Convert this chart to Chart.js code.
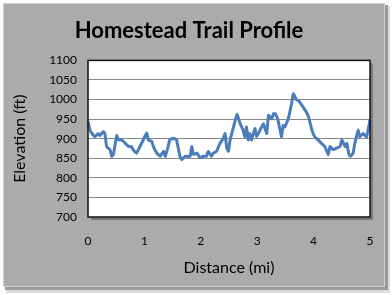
<!DOCTYPE html>
<html>
<head>
<meta charset="utf-8">
<script src="https://cdn.jsdelivr.net/npm/chart.js@4/dist/chart.umd.min.js"></script>
<style>
  html, body { margin: 0; padding: 0; background: #ffffff; }
  #wrap { width: 392px; height: 295px; position: relative; }
</style>
</head>
<body>
<div id="wrap"><canvas id="grafico-perfil" width="392" height="295"></canvas></div>
<script>
// === Datos ===
const tituloGrafico = "Homestead Trail Profile";
const tituloX = "Distance (mi)";
const tituloY = "Elevation (ft)";

const distancias = [
  0.00, 0.04, 0.12, 0.18, 0.21, 0.27, 0.30, 0.33, 0.39, 0.42, 0.45, 0.51, 0.54, 0.60, 0.66,
  0.72, 0.77, 0.80, 0.86, 0.92, 0.98, 1.04, 1.07, 1.13, 1.16, 1.22, 1.28, 1.34, 1.37, 1.42,
  1.45, 1.51, 1.57, 1.63, 1.66, 1.72, 1.81, 1.84, 1.87, 1.93, 1.99, 2.04, 2.10, 2.13, 2.19,
  2.22, 2.28, 2.34, 2.40, 2.43, 2.46, 2.49, 2.52, 2.58, 2.64, 2.70, 2.75, 2.78, 2.81, 2.84,
  2.87, 2.90, 2.96, 2.99, 3.05, 3.11, 3.17, 3.20, 3.26, 3.29, 3.32, 3.37, 3.43, 3.46, 3.49,
  3.55, 3.61, 3.64, 3.67, 3.70, 3.73, 3.79, 3.85, 3.91, 3.97, 4.02, 4.08, 4.14, 4.20, 4.26,
  4.29, 4.35, 4.41, 4.47, 4.50, 4.56, 4.59, 4.62, 4.65, 4.70, 4.73, 4.76, 4.79, 4.82, 4.88,
  4.94, 5.00
];
const elevaciones = [
  945, 920, 905, 913, 908, 918, 913, 880, 872, 855, 860, 908, 897, 897, 888,
  880, 880, 872, 863, 880, 897, 915, 897, 893, 880, 863, 855, 868, 855, 880,
  897, 901, 897, 855, 846, 855, 855, 880, 860, 863, 851, 855, 855, 868, 855,
  863, 868, 888, 901, 913, 876, 868, 897, 930, 962, 938, 922, 905, 930, 897,
  913, 897, 926, 905, 922, 938, 913, 960, 951, 964, 964, 947, 905, 934, 930,
  951, 990, 1015, 1007, 998, 998, 986, 973, 956, 922, 905, 897, 888, 880, 859,
  880, 872, 876, 880, 897, 880, 888, 863, 855, 863, 888, 905, 922, 905, 913,
  905, 948
];
const ticksX = [0, 1, 2, 3, 4, 5];
const ticksY = [700, 750, 800, 850, 900, 950, 1000, 1050, 1100];

const puntos = distancias.map((d, i) => ({ x: d, y: elevaciones[i] }));

// === Fondo gris con marco y sombra ===
const fondoPlugin = {
  id: "fondo",
  beforeDraw(chart) {
    const ctx = chart.ctx;
    ctx.save();
    ctx.fillStyle = "#ffffff";
    ctx.fillRect(0, 0, chart.width, chart.height);
    // sombra
    ctx.fillStyle = "#c8c8c8";
    ctx.fillRect(7, 7, 382, 285);
    ctx.fillStyle = "#dcdcdc";
    ctx.fillRect(6, 6, 384, 287);
    ctx.fillStyle = "#9a9a9a";
    ctx.fillRect(5, 5, 383, 285);
    // caja
    ctx.fillStyle = "#ababab";
    ctx.fillRect(3, 3, 382, 284);
    ctx.strokeStyle = "#d0d0d0";
    ctx.lineWidth = 1;
    ctx.strokeRect(3.5, 3.5, 381, 283);
    // area de trazado
    const a = chart.chartArea;
    ctx.fillStyle = "#7a7a7a";
    ctx.fillRect(a.left + 3, a.top + 3, a.right - a.left, a.bottom - a.top);
    ctx.fillStyle = "#ffffff";
    ctx.fillRect(a.left, a.top, a.right - a.left, a.bottom - a.top);
    ctx.restore();
  },
  afterDatasetsDraw(chart) {
    const ctx = chart.ctx;
    const a = chart.chartArea;
    ctx.save();
    ctx.strokeStyle = "#111111";
    ctx.lineWidth = 1.5;
    ctx.strokeRect(a.left, a.top, a.right - a.left, a.bottom - a.top);
    ctx.restore();
  }
};

const ctx = document.getElementById("grafico-perfil").getContext("2d");
new Chart(ctx, {
  type: "line",
  data: {
    datasets: [{
      label: "Elevation",
      data: puntos,
      borderColor: "#4a7ebb",
      borderWidth: 3,
      pointRadius: 0,
      tension: 0.1,
      fill: false,
      clip: 4
    }]
  },
  options: {
    responsive: false,
    animation: false,
    layout: { padding: { top: 0, right: 22, bottom: 18, left: 8 } },
    plugins: {
      legend: { display: false },
      tooltip: { enabled: false },
      title: {
        display: true,
        text: tituloGrafico,
        color: "#000000",
        font: { family: "Lato", size: 22, weight: "bold" },
        padding: { top: 18, bottom: 16 }
      }
    },
    scales: {
      x: {
        type: "linear",
        min: 0,
        max: 5,
        afterBuildTicks: (s) => { s.ticks = ticksX.map(v => ({ value: v })); },
        afterFit: (s) => { s.height = 60; },
        ticks: { color: "#000000", font: { family: "Lato", size: 12 }, padding: 17, callback: (v) => String(v) },
        grid: { display: false, drawTicks: false },
        border: { display: false },
        title: {
          display: true,
          text: tituloX,
          color: "#000000",
          font: { family: "Lato", size: 16 },
          padding: { top: 4, bottom: 0 }
        }
      },
      y: {
        min: 700,
        max: 1100,
        afterBuildTicks: (s) => { s.ticks = ticksY.map(v => ({ value: v })); },
        afterFit: (s) => { s.width = 80; },
        ticks: { color: "#000000", font: { family: "Lato", size: 12 }, padding: 11, callback: (v) => String(v) },
        grid: { color: "#888888", lineWidth: 1, drawTicks: false },
        border: { display: false },
        title: {
          display: true,
          text: tituloY,
          color: "#000000",
          font: { family: "Lato", size: 16 },
          padding: { top: 2, bottom: 0 }
        }
      }
    }
  },
  plugins: [fondoPlugin]
});
</script>
</body>
</html>
